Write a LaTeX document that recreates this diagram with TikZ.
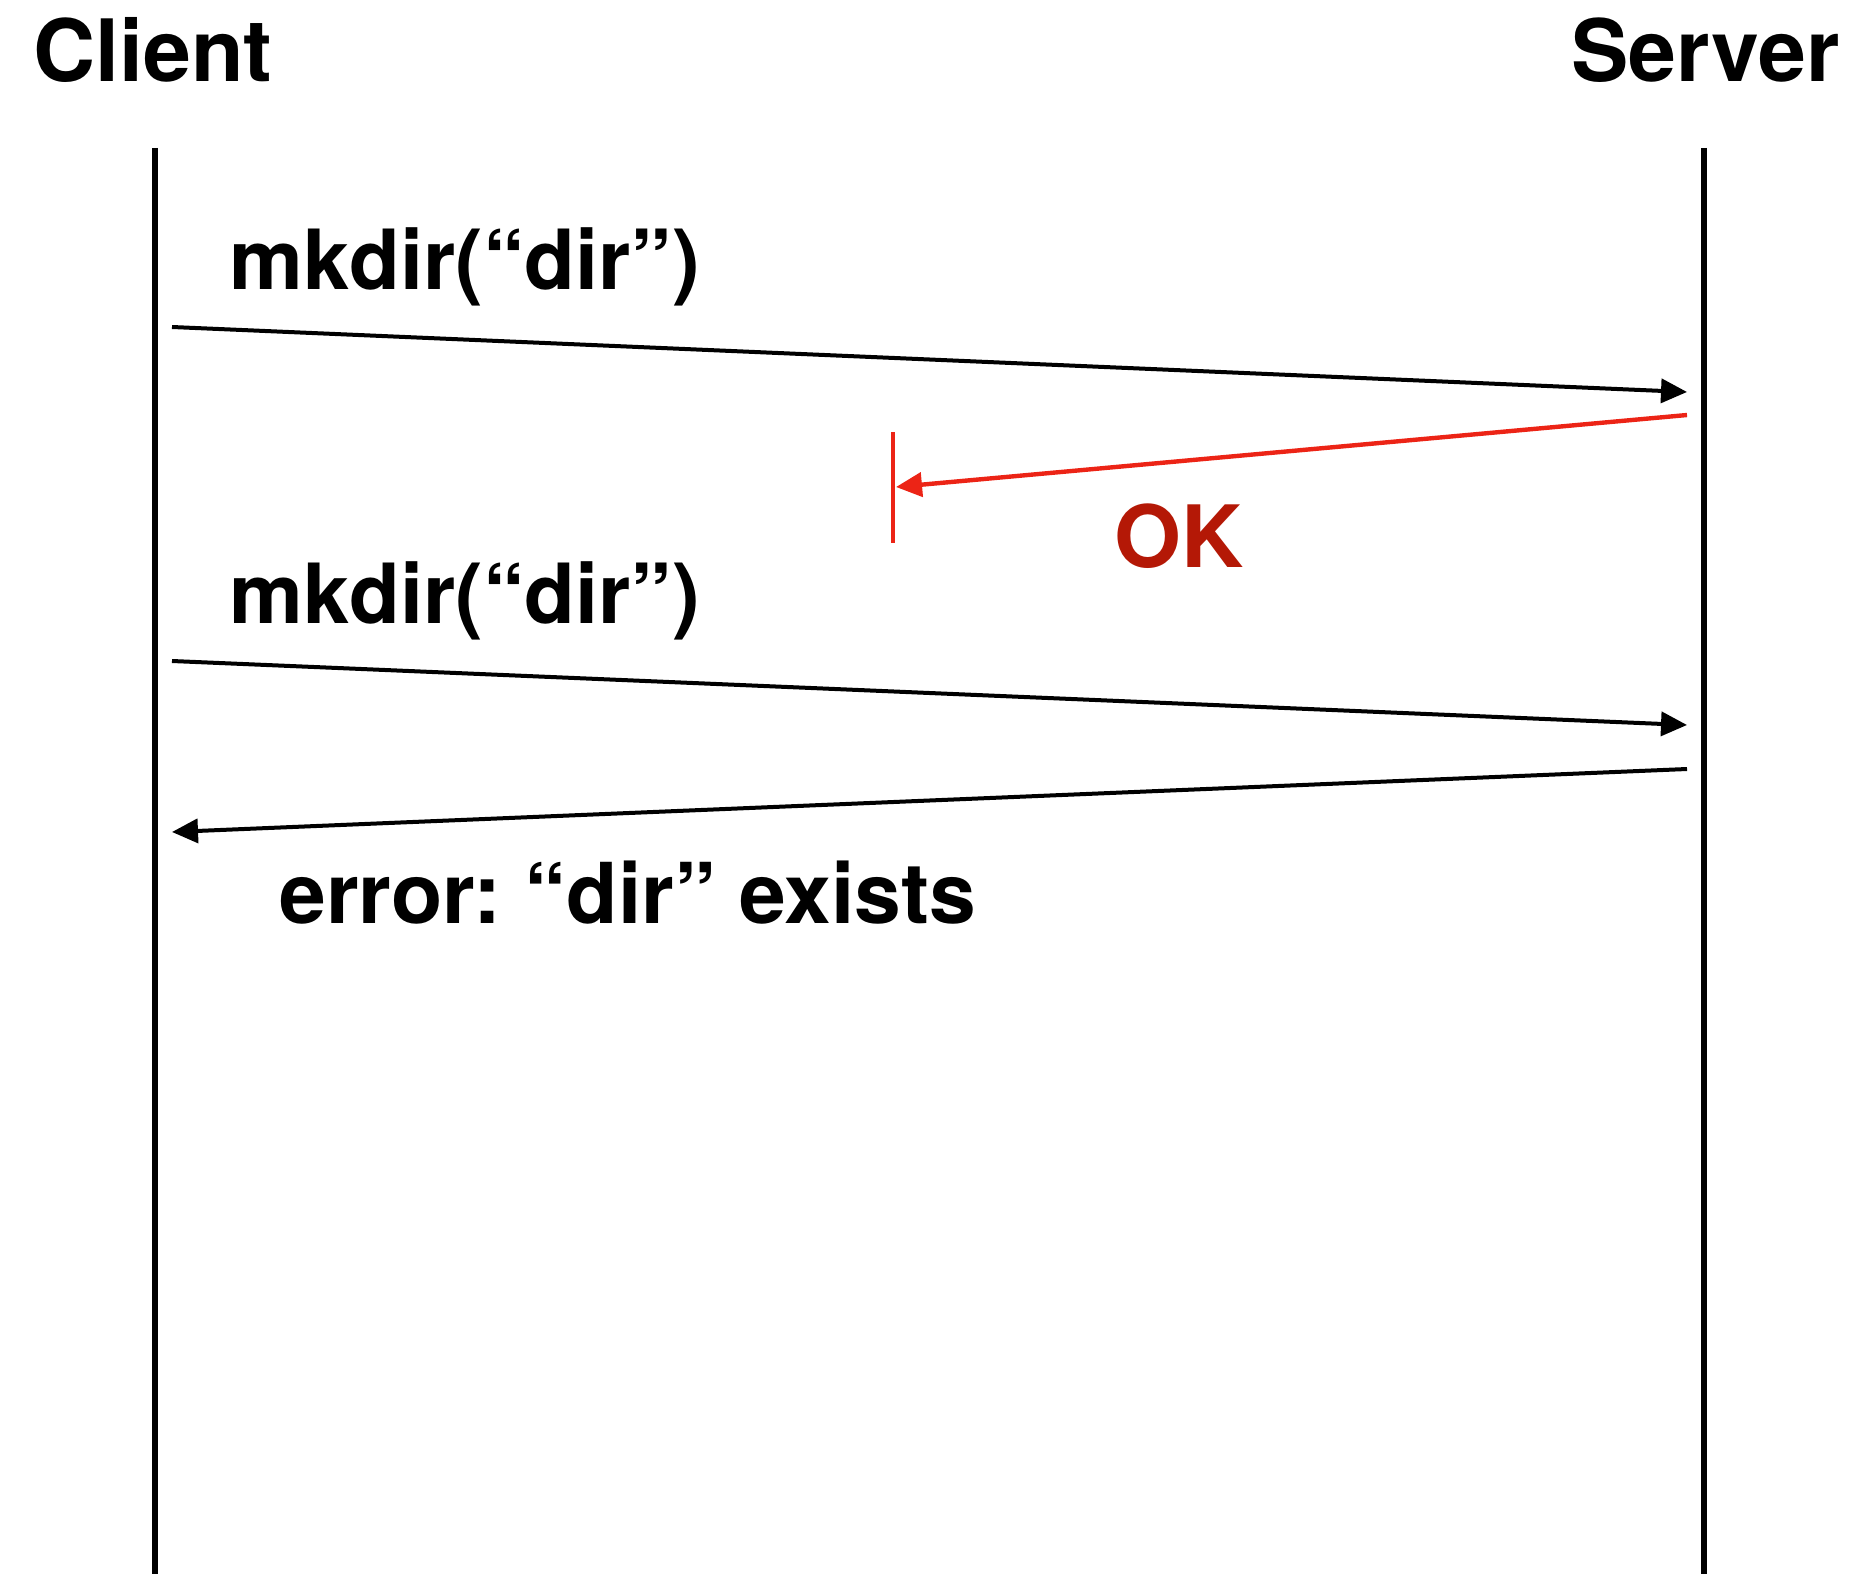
\documentclass[tikz,border=0pt]{standalone}
\usepackage{fontspec}
\setmainfont{TeX Gyre Heros}
\usetikzlibrary{arrows.meta}
\frenchspacing

\definecolor{msgred}{RGB}{236,36,22}
\definecolor{okred}{RGB}{180,24,6}

\tikzset{
  title/.style={font=\fontsize{43pt}{50pt}\selectfont\bfseries, inner sep=0pt, anchor=base west},
  msglabel/.style={font=\fontsize{41.5pt}{48pt}\selectfont\bfseries, inner sep=0pt, anchor=base west},
  lifeline/.style={line width=2.6pt, black},
  msg/.style={line width=2pt, black, -{Triangle[length=13pt,width=12pt]}},
  lostmsg/.style={line width=2.2pt, msgred, -{Triangle[length=13pt,width=12pt]}},
  stopbar/.style={line width=2.2pt, msgred}
}

\begin{document}
\begin{tikzpicture}[x=0.5pt,y=-0.5pt]
  \useasboundingbox (0,0) rectangle (1856,1573);

  % participants
  \node[title] (client) at (33,82) {Client};
  \node[title] (server) at (1571,82) {Server};

  % lifelines
  \coordinate (cTop) at (155,148);
  \coordinate (cBot) at (155,1580);
  \coordinate (sTop) at (1704,148);
  \coordinate (sBot) at (1704,1580);
  \draw[lifeline] (cTop) -- (cBot);
  \draw[lifeline] (sTop) -- (sBot);

  % message end points
  \coordinate (m1a) at (172,327);
  \coordinate (m1b) at (1687,392);
  \coordinate (r1a) at (1687,415);
  \coordinate (r1b) at (896,487);
  \coordinate (barTop) at (893,432);
  \coordinate (barBot) at (893,543);
  \coordinate (m2a) at (172,661);
  \coordinate (m2b) at (1687,725);
  \coordinate (r2a) at (1687,769);
  \coordinate (r2b) at (172,832);

  % first request and its lost reply
  \node[msglabel] (lab1) at (229,289) {mkdir(“dir”)};
  \draw[msg] (m1a) -- (m1b);
  \draw[lostmsg] (r1a) -- (r1b);
  \draw[stopbar] (barTop) -- (barBot);
  \node[msglabel, text=okred, font=\fontsize{43pt}{50pt}\selectfont\bfseries] (ok) at (1114,567) {OK};

  % retried request and error reply
  \node[msglabel] (lab2) at (229,623) {mkdir(“dir”)};
  \draw[msg] (m2a) -- (m2b);
  \draw[msg] (r2a) -- (r2b);
  \node[msglabel, font=\fontsize{42pt}{48pt}\selectfont\bfseries] (lab3) at (279,923) {error: “dir” exists};
\end{tikzpicture}
\end{document}
